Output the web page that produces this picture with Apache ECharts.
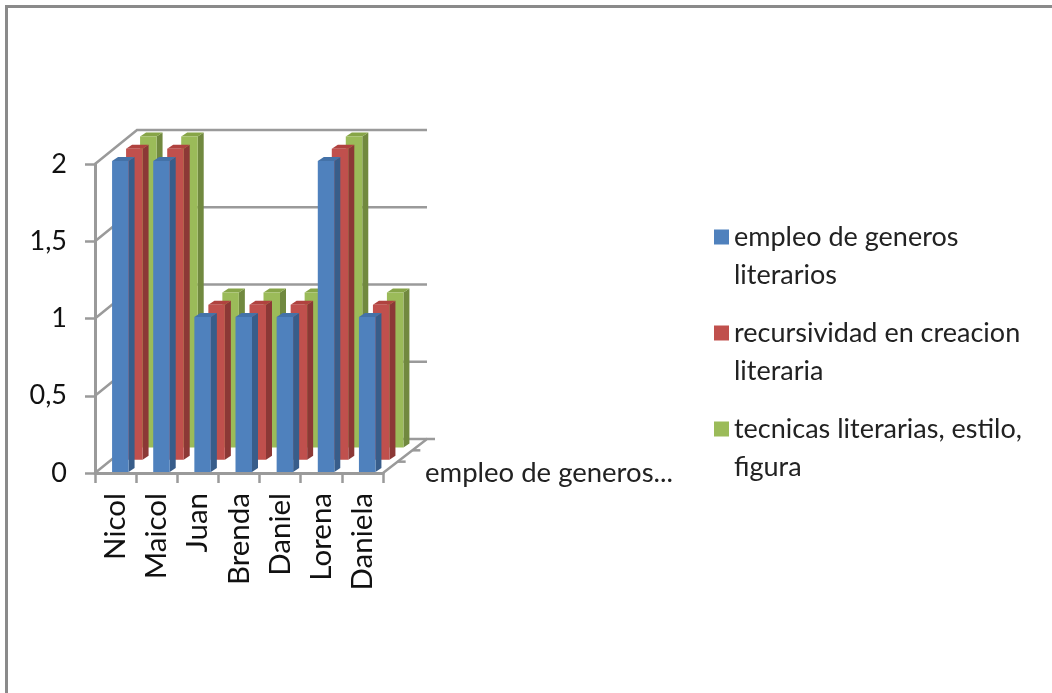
<!DOCTYPE html>
<html><head><meta charset="utf-8">
<style>html,body{margin:0;padding:0;background:#fff}#c{width:1052px;height:693px}</style>
<script src="https://cdn.jsdelivr.net/npm/echarts@6/dist/echarts.min.js"></script>
</head><body><div id="c"></div>
<script>
const categories = ['Nicol','Maicol','Juan','Brenda','Daniel','Lorena','Daniela'];
const seriesNames = ['empleo de generos literarios','recursividad en creacion literaria','tecnicas literarias, estilo, figura'];
const legendLabels = ['empleo de generos\nliterarios','recursividad en creacion\nliteraria','tecnicas literarias, estilo,\nfigura'];
const empleo = [2,2,1,1,1,2,1];
const recursividad = [2,2,1,1,1,2,1];
const tecnicas = [2,2,1,1,1,2,1];
const gridValues = [0,0.5,1,1.5,2];
const depthLabel = 'empleo de generos...';

const FONT = 'Lato';
const GRAY = '#9a9a9a';
const palette = [
  {front:'#4F81BD', side:'#385D8A', top:'#4472A8'},
  {front:'#C0504D', side:'#8C3836', top:'#B0423F'},
  {front:'#9BBB59', side:'#71893F', top:'#87A548'}
];
const DEPTH_X = 42, DEPTH_Y = 34, BACK_EXTRA = 2;

function barSeries(i, values){
  const c = palette[i];
  return {
    name: seriesNames[i], type:'custom', z: 5-i,
    data: values.map((v,k)=>[k,v]),
    encode:{x:0,y:1},
    renderItem(params, api){
      const k = api.value(0), v = api.value(1);
      const top = api.coord([k,v]), base = api.coord([k,0]);
      const dx = 14*i, dy = 12.3*i;
      const x0 = top[0]-3.5+dx, w = 16.5, sx = 6, sy = 4;
      const yT = top[1]-1.5*v-dy, yB = base[1]-1-dy;
      return {type:'group',children:[
        {type:'polygon',shape:{points:[[x0+w,yT],[x0+w+sx,yT-sy],[x0+w+sx,yB-sy],[x0+w,yB]]},style:{fill:c.side}},
        {type:'polygon',shape:{points:[[x0,yT],[x0+sx,yT-sy],[x0+w+sx,yT-sy],[x0+w,yT]]},style:{fill:c.top}},
        {type:'rect',shape:{x:x0,y:yT,width:w,height:yB-yT},style:{fill:c.front}}
      ]};
    }
  };
}

const option = {
  backgroundColor:'#fff',
  animation:false,
  grid:{left:95,right:669,top:164,bottom:220,containLabel:false},
  legend:{
    left:709,top:175,orient:'vertical',itemWidth:15,itemHeight:15,itemGap:-18,
    icon:'rect',
    data:seriesNames.map((n,i)=>({name:n,itemStyle:{color:palette[i].front}})),
    formatter:n=>'\u00a0\n'+legendLabels[seriesNames.indexOf(n)],
    selectedMode:false,
    textStyle:{fontFamily:FONT,fontSize:27,color:'#222',lineHeight:38}
  },
  xAxis:{type:'category',data:categories,
    axisLine:{lineStyle:{color:GRAY,width:3}},
    axisTick:{show:true,alignWithLabel:false,length:10,lineStyle:{color:GRAY,width:2.5}},
    axisLabel:{rotate:90,fontFamily:FONT,fontSize:29.5,color:'#111',margin:20,interval:0}
  },
  yAxis:{type:'value',min:0,max:2,interval:0.5,
    axisLine:{show:true,lineStyle:{color:GRAY,width:3}},
    axisTick:{show:true,length:10,lineStyle:{color:GRAY,width:2.5}},
    splitLine:{show:false},
    axisLabel:{fontFamily:FONT,fontSize:27,color:'#111',margin:28,padding:[4,0,0,0],formatter:v=>String(v).replace('.',',')}
  },
  graphic:[
    {type:'rect',shape:{x:6.5,y:6.5,width:1060,height:700},style:{fill:'none',stroke:'#8a8a8a',lineWidth:3},z:-1},
    {type:'text',left:425,top:459,style:{text:depthLabel,font:'27.5px '+FONT,fill:'#222'}}
  ],
  series:[
    {type:'custom',name:'wall',z:1,silent:true,
     data:gridValues.map(v=>[0,v]),encode:{x:0,y:1},
     renderItem(params,api){
       const v = api.value(1), p = api.coord([0,v]);
       const band = api.size([1,0])[0];
       const L = p[0]-band/2, R = L+band*categories.length;
       const style = {stroke:GRAY,lineWidth:2.5,fill:'none'};
       const kids = [
         {type:'polyline',shape:{points:[[L,p[1]],[L+DEPTH_X,p[1]-DEPTH_Y],[R+DEPTH_X+BACK_EXTRA,p[1]-DEPTH_Y]]},style}
       ];
       if(v===0){
         kids.push({type:'polyline',shape:{points:[[R,p[1]],[R+DEPTH_X+BACK_EXTRA,p[1]-DEPTH_Y],[R+DEPTH_X+BACK_EXTRA+8,p[1]-DEPTH_Y]]},style});
         [1,2].forEach(t=>{
           const f=t/3, x=R+(DEPTH_X+BACK_EXTRA)*f, y=p[1]-DEPTH_Y*f;
           kids.push({type:'line',shape:{x1:x,y1:y,x2:x+8,y2:y},style});
         });
       }
       return {type:'group',children:kids};
     }},
    barSeries(0,empleo),barSeries(1,recursividad),barSeries(2,tecnicas)
  ]
};
echarts.init(document.getElementById('c'),null,{renderer:'canvas'}).setOption(option);
</script></body></html>
